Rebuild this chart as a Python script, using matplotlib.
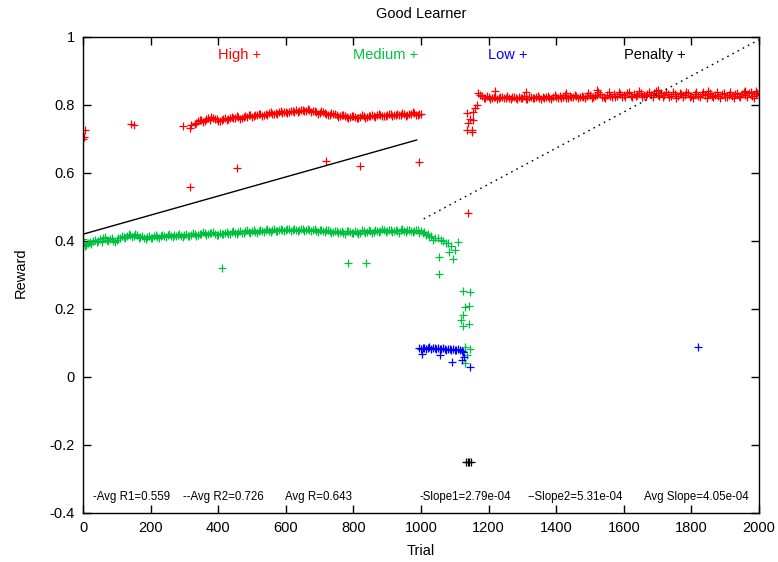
import numpy as np
import matplotlib
matplotlib.use('Agg')
import matplotlib.pyplot as plt

plt.rcParams['font.family'] = ['Liberation Sans', 'DejaVu Sans']

# ---- data ----
# High action reward, first block (trials 330..1000, every 10th)
high1_x = list(range(330, 1001, 10))
high1_y = [0.744, 0.752, 0.757, 0.753, 0.761, 0.764, 0.758, 0.754, 0.757, 0.762,
           0.759, 0.764, 0.762, 0.766, 0.763, 0.768, 0.770, 0.766, 0.771, 0.773,
           0.769, 0.774, 0.776, 0.773, 0.777, 0.779, 0.776, 0.780, 0.778, 0.782,
           0.784, 0.781, 0.786, 0.783, 0.785, 0.781, 0.779, 0.776, 0.779, 0.774,
           0.772, 0.775, 0.771, 0.768, 0.770, 0.766, 0.764, 0.767, 0.763, 0.766,
           0.768, 0.765, 0.769, 0.767, 0.770, 0.772, 0.768, 0.771, 0.773, 0.770,
           0.774, 0.772, 0.775, 0.771, 0.774, 0.776, 0.772, 0.773]
# the trials in between (335..995)
high1b_x = list(range(335, 996, 10))
high1b_y = [0.748, 0.755, 0.751, 0.759, 0.756, 0.762, 0.760, 0.752, 0.760, 0.757,
            0.763, 0.761, 0.767, 0.760, 0.765, 0.764, 0.772, 0.768, 0.770, 0.775,
            0.772, 0.771, 0.778, 0.775, 0.774, 0.781, 0.778, 0.776, 0.783, 0.780,
            0.779, 0.784, 0.782, 0.787, 0.779, 0.783, 0.775, 0.781, 0.777, 0.770,
            0.776, 0.773, 0.766, 0.772, 0.769, 0.762, 0.768, 0.765, 0.761, 0.770,
            0.763, 0.767, 0.771, 0.764, 0.773, 0.769, 0.767, 0.775, 0.768, 0.772,
            0.770, 0.777, 0.769, 0.773, 0.778, 0.770, 0.775]
# High, second block (trials 1180..2000)
high2_x = list(range(1180, 2001, 10))
high2_y = [0.826, 0.822, 0.824, 0.820, 0.823, 0.821, 0.825, 0.822, 0.820, 0.823,
           0.821, 0.824, 0.822, 0.819, 0.823, 0.821, 0.824, 0.822, 0.825, 0.823,
           0.821, 0.825, 0.823, 0.826, 0.824, 0.822, 0.826, 0.824, 0.827, 0.825,
           0.823, 0.827, 0.829, 0.824, 0.828, 0.832, 0.825, 0.830, 0.827, 0.833,
           0.826, 0.831, 0.828, 0.834, 0.827, 0.832, 0.829, 0.835, 0.828, 0.833,
           0.830, 0.836, 0.829, 0.834, 0.828, 0.832, 0.827, 0.833, 0.826, 0.831,
           0.828, 0.834, 0.827, 0.832, 0.826, 0.831, 0.828, 0.833, 0.826, 0.830,
           0.827, 0.832, 0.825, 0.830, 0.827, 0.833, 0.826, 0.831, 0.828, 0.834,
           0.827, 0.832, 0.829]
high2b_x = list(range(1185, 1996, 10))
high2b_y = [0.820, 0.826, 0.819, 0.825, 0.818, 0.824, 0.820, 0.826, 0.818, 0.825,
            0.819, 0.821, 0.826, 0.818, 0.825, 0.820, 0.827, 0.819, 0.821, 0.826,
            0.819, 0.828, 0.820, 0.822, 0.828, 0.820, 0.823, 0.829, 0.821, 0.826,
            0.822, 0.836, 0.821, 0.826, 0.838, 0.823, 0.822, 0.837, 0.824, 0.823,
            0.838, 0.825, 0.823, 0.839, 0.824, 0.826, 0.840, 0.825, 0.827, 0.838,
            0.824, 0.841, 0.826, 0.823, 0.837, 0.825, 0.839, 0.822, 0.836, 0.824,
            0.838, 0.823, 0.821, 0.837, 0.824, 0.839, 0.822, 0.836, 0.825, 0.838,
            0.821, 0.835, 0.824, 0.839, 0.822, 0.836, 0.823, 0.838, 0.825, 0.837,
            0.822, 0.836]
# scattered High points
high_px = [0, 3, 5, 141, 151, 296, 317, 320, 317, 455, 719, 820, 995,
           1135, 1150, 1154, 1150, 1140, 1135, 1155, 1160, 1165, 1170, 1175, 1145, 1138,
           1220, 1310, 1430, 1520, 1700, 1850, 1960, 1990]
high_py = [0.700, 0.707, 0.726, 0.744, 0.741, 0.739, 0.731, 0.740, 0.560, 0.614, 0.635, 0.620, 0.631,
           0.726, 0.726, 0.756, 0.720, 0.748, 0.776, 0.780, 0.790, 0.800, 0.834, 0.829, 0.760, 0.481,
           0.840, 0.838, 0.836, 0.845, 0.845, 0.842, 0.840, 0.840]

# Medium action reward (trials 0..1040)
med_x = list(range(0, 1041, 10))
med_y = [0.392, 0.388, 0.398, 0.401, 0.396, 0.405, 0.409, 0.403, 0.406, 0.401,
         0.404, 0.408, 0.412, 0.416, 0.419, 0.414, 0.417, 0.411, 0.409, 0.413,
         0.410, 0.414, 0.412, 0.416, 0.414, 0.418, 0.415, 0.419, 0.417, 0.414,
         0.418, 0.415, 0.419, 0.421, 0.418, 0.422, 0.424, 0.421, 0.425, 0.422,
         0.419, 0.421, 0.424, 0.422, 0.426, 0.424, 0.427, 0.425, 0.428, 0.426,
         0.429, 0.427, 0.430, 0.428, 0.431, 0.429, 0.432, 0.430, 0.433, 0.431,
         0.432, 0.434, 0.431, 0.433, 0.432, 0.434, 0.431, 0.433, 0.432, 0.430,
         0.432, 0.429, 0.431, 0.428, 0.426, 0.429, 0.427, 0.425, 0.428, 0.426,
         0.424, 0.427, 0.425, 0.428, 0.426, 0.429, 0.427, 0.430, 0.428, 0.431,
         0.429, 0.432, 0.430, 0.428, 0.431, 0.429, 0.432, 0.430, 0.428, 0.431,
         0.429, 0.427, 0.422, 0.415, 0.408]
medb_x = list(range(5, 1036, 10))
medb_y = [0.385, 0.395, 0.392, 0.404, 0.400, 0.398, 0.412, 0.399, 0.410, 0.397,
          0.408, 0.414, 0.409, 0.421, 0.412, 0.420, 0.408, 0.415, 0.406, 0.416,
          0.409, 0.417, 0.410, 0.419, 0.411, 0.420, 0.413, 0.416, 0.421, 0.411,
          0.420, 0.414, 0.424, 0.416, 0.420, 0.427, 0.419, 0.423, 0.427, 0.417,
          0.425, 0.420, 0.427, 0.421, 0.428, 0.422, 0.430, 0.423, 0.431, 0.424,
          0.432, 0.425, 0.433, 0.426, 0.434, 0.427, 0.435, 0.429, 0.436, 0.430,
          0.435, 0.429, 0.436, 0.430, 0.435, 0.429, 0.436, 0.428, 0.434, 0.427,
          0.433, 0.426, 0.431, 0.424, 0.430, 0.423, 0.429, 0.422, 0.430, 0.423,
          0.429, 0.422, 0.431, 0.424, 0.432, 0.425, 0.433, 0.426, 0.434, 0.427,
          0.433, 0.426, 0.432, 0.425, 0.434, 0.427, 0.433, 0.426, 0.432, 0.425,
          0.424, 0.418, 0.412, 0.402]
med_px = [0, 410, 783, 837, 1050, 1060, 1066, 1075, 1081, 1084, 1053, 1053, 1096, 1101,
          1110, 1090, 1125, 1145, 1130, 1142, 1125, 1118, 1125, 1142, 1130, 1145, 1135, 1130]
med_py = [0.405, 0.320, 0.336, 0.336, 0.410, 0.403, 0.400, 0.395, 0.393, 0.369, 0.354, 0.303, 0.346, 0.375,
          0.396, 0.385, 0.253, 0.249, 0.205, 0.209, 0.182, 0.168, 0.150, 0.155, 0.089, 0.082, 0.065, 0.040]

# Low action reward (trials 995..1125, every 5th)
low_x = list(range(995, 1126, 5))
low_y = [0.085, 0.083, 0.086, 0.084, 0.082, 0.085, 0.087, 0.083, 0.084, 0.086,
         0.082, 0.084, 0.081, 0.083, 0.085, 0.082, 0.080, 0.083, 0.081, 0.079,
         0.082, 0.080, 0.078, 0.081, 0.079, 0.077, 0.075]
low_px = [1002, 1056, 1091, 1120, 1128, 1145, 1820]
low_py = [0.068, 0.065, 0.045, 0.050, 0.060, 0.030, 0.089]

# Penalty
pen_x = [1133, 1138, 1143, 1148]
pen_y = [-0.25, -0.25, -0.25, -0.25]

# fitted lines
fit1_x = [0, 987]
fit1_y = [0.420, 0.697]
fit2_x = [1008, 2000]
fit2_y = [0.465, 0.992]

key_labels = ['High +', 'Medium +', 'Low +', 'Penalty +']
key_x = [464, 896, 1257, 1692]
stats = ['-Avg R1=0.559', '--Avg R2=0.726', 'Avg R=0.643',
         '-Slope1=2.79e-04', '--Slope2=5.31e-04', 'Avg Slope=4.05e-04']
stats_x = [30, 296, 598, 997, 1314, 1660]

RED, GREEN, BLUE = '#ff0000', '#00c040', '#0000ff'

fig = plt.figure(figsize=(7.78, 5.62), dpi=100)
ax = fig.add_axes([83/778, 49/562, 676/778, 476/562])

mk = dict(marker='+', linestyle='none', markersize=6, markeredgewidth=0.9)
ax.plot(high1_x, high1_y, color=RED, **mk)
ax.plot(high1b_x, high1b_y, color=RED, **mk)
ax.plot(high2_x, high2_y, color=RED, **mk)
ax.plot(high2b_x, high2b_y, color=RED, **mk)
ax.plot(high_px, high_py, color=RED, **mk)
ax.plot(med_x, med_y, color=GREEN, **mk)
ax.plot(medb_x, medb_y, color=GREEN, **mk)
ax.plot(med_px, med_py, color=GREEN, **mk)
ax.plot(low_x, low_y, color=BLUE, **mk)
ax.plot(low_px, low_py, color=BLUE, **mk)
ax.plot(pen_x, pen_y, color='black', **mk)

ax.plot(fit1_x, fit1_y, color='black', lw=1.0)
ax.plot(fit2_x, fit2_y, color='black', lw=1.0, linestyle=(0, (1.2, 3)))

for lab, x, c in zip(key_labels, key_x, [RED, GREEN, BLUE, 'black']):
    ax.text(x, 0.947, lab, color=c, fontsize=10.5, ha='center', va='center')
for lab, x in zip(stats, stats_x):
    ax.text(x, -0.353, lab, color='black', fontsize=8.3, ha='left', va='center')

ax.set_xlim(0, 2000)
ax.set_ylim(-0.4, 1.0)
ax.set_xticks(range(0, 2001, 200))
ax.set_yticks([-0.4, -0.2, 0, 0.2, 0.4, 0.6, 0.8, 1.0])
ax.set_yticklabels(['-0.4', '-0.2', '0', '0.2', '0.4', '0.6', '0.8', '1'])
ax.tick_params(direction='in', length=6, width=1, top=True, right=True,
               labelsize=10.5, pad=6)
for s in ax.spines.values():
    s.set_linewidth(1.0)

fig.text(421/778, 1 - 14/562, 'Good Learner', ha='center', va='center', fontsize=10.5)
fig.text(421/778, 1 - 551/562, 'Trial', ha='center', va='center', fontsize=10.5)
fig.text(21/778, 1 - 273/562, 'Reward', ha='center', va='center', rotation=90, fontsize=10.5)

fig.savefig('out.png', dpi=100)
